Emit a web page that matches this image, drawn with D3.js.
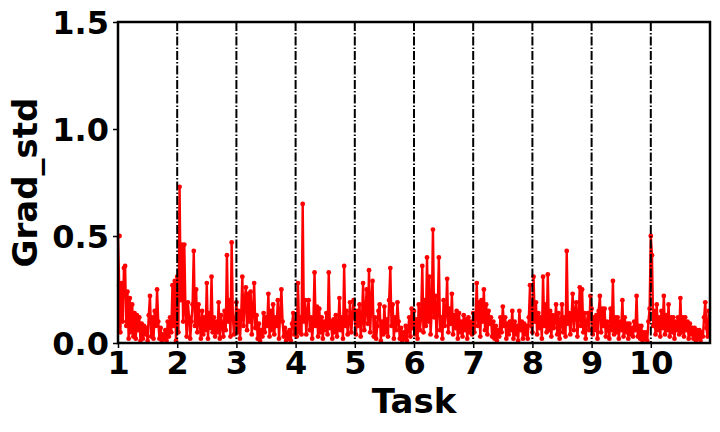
<!doctype html>
<html lang="en">
  <head>
    <meta charset="utf-8">
    <script src="https://cdnjs.cloudflare.com/ajax/libs/d3/7.8.5/d3.min.js"></script>
    <style>
      body { margin: 0; background: #fff; }
      text { font-family: "DejaVu Sans", sans-serif; font-weight: bold; }
    </style>
    <title>Grad_std per task</title>
  </head>
  <body>
    <div id="my_dataviz"></div>
    <script>
      // grad std values, 50 steps per task
      var task1 = [0.50,0.27,0.05,0.28,0.10,0.35,0.36,0.08,0.24,0.02,0.21,0.05,0.18,0.03,0.14,0.02,0.13,0.06,0.12,0.01,
                   0.09,0.02,0.08,0.04,0.07,0.01,0.13,0.22,0.03,0.12,0.02,0.15,0.08,0.25,0.10,0.02,0.07,0.01,0.04,0.02,
                   0.06,0.01,0.10,0.03,0.12,0.05,0.27,0.08,0.29,0.01];
      var task2 = [0.31,0.05,0.73,0.20,0.46,0.10,0.46,0.15,0.03,0.19,0.12,0.02,0.10,0.18,0.43,0.08,0.25,0.05,0.18,0.10,
                   0.02,0.15,0.04,0.12,0.06,0.28,0.02,0.14,0.07,0.31,0.05,0.12,0.03,0.10,0.05,0.19,0.02,0.13,0.08,0.03,
                   0.15,0.06,0.41,0.10,0.20,0.03,0.47,0.12,0.04,0.11];
      var task3 = [0.19,0.05,0.15,0.02,0.12,0.31,0.08,0.20,0.26,0.06,0.23,0.10,0.24,0.04,0.15,0.28,0.07,0.13,0.02,0.09,
                   0.01,0.06,0.03,0.14,0.05,0.12,0.08,0.23,0.03,0.15,0.06,0.18,0.04,0.12,0.08,0.20,0.02,0.14,0.25,0.10,
                   0.03,0.07,0.01,0.05,0.02,0.06,0.01,0.09,0.14,0.04];
      var task4 = [0.10,0.03,0.28,0.05,0.12,0.04,0.65,0.10,0.20,0.04,0.15,0.20,0.06,0.12,0.02,0.10,0.33,0.08,0.17,0.03,
                   0.16,0.05,0.12,0.02,0.10,0.06,0.14,0.04,0.33,0.07,0.10,0.02,0.11,0.05,0.13,0.03,0.08,0.21,0.06,0.12,
                   0.02,0.36,0.08,0.15,0.04,0.10,0.19,0.05,0.12,0.20];
      var task5 = [0.12,0.04,0.15,0.08,0.18,0.03,0.10,0.28,0.06,0.15,0.25,0.09,0.34,0.05,0.20,0.29,0.03,0.12,0.02,0.08,
                   0.15,0.18,0.01,0.10,0.04,0.17,0.05,0.11,0.03,0.20,0.35,0.08,0.18,0.02,0.12,0.06,0.19,0.10,0.02,0.07,
                   0.01,0.05,0.02,0.08,0.01,0.06,0.12,0.03,0.16,0.07];
      var task6 = [0.15,0.04,0.11,0.02,0.18,0.06,0.12,0.36,0.05,0.20,0.08,0.40,0.10,0.31,0.04,0.15,0.53,0.12,0.22,0.03,
                   0.15,0.40,0.06,0.12,0.02,0.20,0.08,0.14,0.30,0.05,0.16,0.09,0.23,0.04,0.13,0.07,0.15,0.02,0.14,0.05,
                   0.10,0.03,0.13,0.06,0.11,0.02,0.12,0.05,0.10,0.04];
      var task7 = [0.14,0.05,0.12,0.28,0.08,0.19,0.03,0.20,0.10,0.25,0.06,0.18,0.04,0.15,0.09,0.12,0.03,0.10,0.02,0.08,
                   0.01,0.06,0.03,0.12,0.05,0.17,0.08,0.12,0.02,0.09,0.04,0.10,0.06,0.15,0.02,0.10,0.04,0.08,0.01,0.15,
                   0.06,0.10,0.02,0.09,0.04,0.08,0.02,0.12,0.27,0.08];
      var task8 = [0.05,0.31,0.10,0.19,0.04,0.14,0.07,0.12,0.02,0.31,0.08,0.18,0.05,0.32,0.06,0.15,0.03,0.13,0.07,0.10,
                   0.18,0.04,0.14,0.02,0.09,0.18,0.05,0.12,0.03,0.43,0.09,0.14,0.04,0.12,0.23,0.06,0.15,0.19,0.03,0.12,
                   0.26,0.08,0.25,0.05,0.14,0.02,0.10,0.14,0.06,0.22];
      var task9 = [0.16,0.04,0.12,0.06,0.13,0.02,0.15,0.22,0.05,0.16,0.08,0.16,0.03,0.10,0.07,0.02,0.16,0.06,0.29,0.04,
                   0.12,0.05,0.12,0.02,0.10,0.06,0.20,0.03,0.12,0.05,0.09,0.02,0.09,0.04,0.07,0.03,0.10,0.06,0.22,0.03,
                   0.08,0.02,0.08,0.01,0.05,0.02,0.05,0.01,0.10,0.16];
      var task10 = [0.50,0.41,0.08,0.15,0.04,0.18,0.06,0.12,0.03,0.15,0.07,0.22,0.04,0.13,0.06,0.18,0.03,0.12,0.05,0.12,
                    0.02,0.10,0.06,0.12,0.04,0.21,0.05,0.12,0.03,0.12,0.06,0.10,0.02,0.09,0.04,0.07,0.02,0.07,0.01,0.06,
                    0.02,0.06,0.01,0.05,0.03,0.12,0.19,0.07,0.03,0.15];

      var tasks = [task1, task2, task3, task4, task5, task6, task7, task8, task9, task10];
      var xTicks = [1, 2, 3, 4, 5, 6, 7, 8, 9, 10];
      var yTicks = [0.0, 0.5, 1.0, 1.5];
      var boundaries = [2, 3, 4, 5, 6, 7, 8, 9, 10];

      var margin = {top: 22, right: 10, bottom: 89, left: 118};
      var width = 720 - margin.left - margin.right;
      var height = 432 - margin.top - margin.bottom;

      // flatten: step j of task i sits at x = i + j/n
      var data = [];
      tasks.forEach(function(arr, i) {
        arr.forEach(function(v, j) {
          data.push({x: i + 1 + j / arr.length, y: v});
        });
      });

      var svg = d3.select("#my_dataviz")
        .append("svg")
          .attr("width", 720)
          .attr("height", 432)
        .append("g")
          .attr("transform", "translate(" + margin.left + "," + margin.top + ")");

      var x = d3.scaleLinear().domain([1, 11]).range([0, width]);
      var y = d3.scaleLinear().domain([0, 1.5]).range([height, 0]);

      var line = d3.line().x(d => x(d.x)).y(d => y(d.y));

      svg.append("path")
        .datum(data)
        .attr("fill", "none")
        .attr("stroke", "#ff0000")
        .attr("stroke-width", 2.4)
        .attr("stroke-linejoin", "round")
        .attr("d", line);

      svg.selectAll("circle.pt")
        .data(data)
        .enter()
        .append("circle")
          .attr("class", "pt")
          .attr("cx", d => x(d.x) + (d.x === 1 ? 1.5 : 0))
          .attr("cy", d => y(d.y))
          .attr("r", 2.4)
          .attr("fill", "#ff0000");

      // task boundaries
      svg.selectAll("line.bnd")
        .data(boundaries)
        .enter()
        .append("line")
          .attr("class", "bnd")
          .attr("x1", d => x(d)).attr("x2", d => x(d))
          .attr("y1", 0).attr("y2", height)
          .attr("stroke", "#000")
          .attr("stroke-width", 2)
          .attr("stroke-dasharray", "9,2,1.5,2");

      // axes
      var xAxis = svg.append("g")
        .attr("transform", "translate(0," + height + ")")
        .call(d3.axisBottom(x).tickValues(xTicks).tickFormat(d3.format("d")).tickSize(5).tickPadding(3));
      var yAxis = svg.append("g")
        .call(d3.axisLeft(y).tickValues(yTicks).tickFormat(d3.format(".1f")).tickSize(5).tickPadding(4));

      [xAxis, yAxis].forEach(function(a) {
        a.select(".domain").remove();
        a.selectAll(".tick line").attr("stroke", "#000").attr("stroke-width", 1.5);
        a.selectAll(".tick text")
          .attr("fill", "#000")
          .style("font-size", "32px")
          .style("font-weight", "bold")
          .style("font-family", "DejaVu Sans");
      });
      yAxis.selectAll(".tick text").attr("dy", "0.36em");

      // frame
      svg.append("rect")
        .attr("width", width)
        .attr("height", height)
        .attr("fill", "none")
        .attr("stroke", "#000")
        .attr("stroke-width", 2.5);

      svg.append("text")
        .attr("x", width / 2)
        .attr("y", height + 70)
        .attr("text-anchor", "middle")
        .style("font-size", "34px")
        .text("Task");

      svg.append("text")
        .attr("transform", "translate(" + (37 - margin.left) + "," + (height / 2) + ") rotate(-90)")
        .attr("text-anchor", "middle")
        .style("font-size", "34px")
        .text("Grad_std");
    </script>
  </body>
</html>
